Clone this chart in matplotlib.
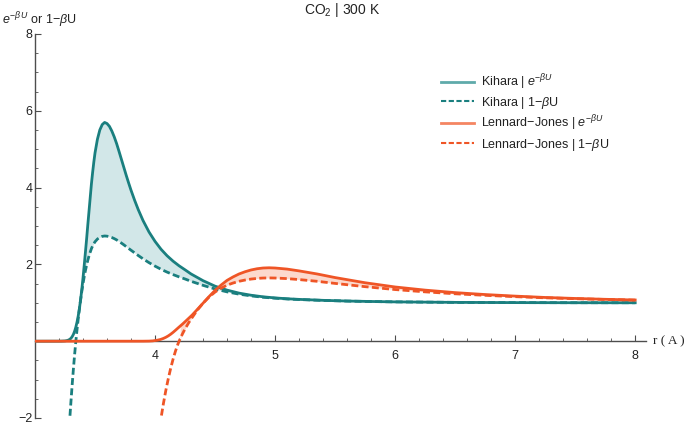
import numpy as np
import matplotlib
matplotlib.use("Agg")
import matplotlib.pyplot as plt
from matplotlib.lines import Line2D

plt.rcParams['font.family'] = ['Liberation Sans', 'DejaVu Sans']
plt.rcParams['mathtext.fontset'] = 'custom'
plt.rcParams['mathtext.rm'] = 'Liberation Sans'
plt.rcParams['mathtext.it'] = 'Liberation Sans:italic'

# Kihara curves
kih_r = [3.00, 3.20, 3.22, 3.25, 3.27, 3.28, 3.29, 3.30, 3.31, 3.32, 3.33, 3.34,
         3.35, 3.36, 3.37, 3.38, 3.39, 3.40, 3.41, 3.42, 3.43, 3.44, 3.45, 3.46,
         3.47, 3.48, 3.49, 3.50, 3.52, 3.54, 3.56, 3.58, 3.60, 3.62, 3.64, 3.66,
         3.68, 3.70, 3.72, 3.74, 3.76, 3.78, 3.80, 3.83, 3.86, 3.90, 3.95, 4.00,
         4.05, 4.10, 4.15, 4.20, 4.25, 4.30, 4.40, 4.50, 4.60, 4.70, 4.80, 4.90,
         5.00, 5.10, 5.20, 5.40, 5.60, 5.80, 6.00, 6.50, 7.00, 7.50, 8.00]
kih_exp = [0.0, 0.001, 0.002, 0.007, 0.020, 0.032, 0.050, 0.078, 0.120, 0.179,
           0.259, 0.364, 0.497, 0.657, 0.852, 1.083, 1.350, 1.649, 1.974, 2.316,
           2.664, 3.034, 3.387, 3.743, 4.096, 4.393, 4.665, 4.904, 5.259, 5.501,
           5.641, 5.697, 5.668, 5.595, 5.474, 5.322, 5.145, 4.943, 4.735, 4.527,
           4.319, 4.121, 3.931, 3.669, 3.428, 3.142, 2.843, 2.599, 2.394, 2.226,
           2.085, 1.964, 1.859, 1.751, 1.576, 1.433, 1.330, 1.252, 1.197, 1.156,
           1.127, 1.105, 1.089, 1.064, 1.046, 1.034, 1.024, 1.011, 1.005, 1.002,
           1.001]
kih_lin_r = [3.285, 3.29, 3.30, 3.31, 3.32, 3.33, 3.34, 3.35, 3.36, 3.37, 3.38,
             3.39, 3.40, 3.41, 3.42, 3.43, 3.44, 3.45, 3.46, 3.47, 3.48, 3.49,
             3.50, 3.52, 3.54, 3.56, 3.58, 3.60, 3.62, 3.64, 3.66, 3.68, 3.70,
             3.72, 3.74, 3.76, 3.78, 3.80, 3.83, 3.86, 3.90, 3.95, 4.00, 4.05,
             4.10, 4.15, 4.20, 4.25, 4.30, 4.40, 4.50, 4.60, 4.70, 4.80, 4.90,
             5.00, 5.10, 5.20, 5.40, 5.60, 5.80, 6.00, 6.50, 7.00, 7.50, 8.00]
kih_lin = [-2.22, -2.00, -1.55, -1.12, -0.72, -0.35, -0.01, 0.30, 0.58, 0.84,
           1.08, 1.30, 1.50, 1.68, 1.84, 1.98, 2.11, 2.22, 2.32, 2.41, 2.48,
           2.54, 2.59, 2.66, 2.705, 2.73, 2.74, 2.735, 2.722, 2.70, 2.672,
           2.638, 2.598, 2.555, 2.51, 2.463, 2.416, 2.369, 2.30, 2.232, 2.145,
           2.045, 1.955, 1.873, 1.80, 1.735, 1.675, 1.62, 1.56, 1.455, 1.36,
           1.285, 1.225, 1.18, 1.145, 1.12, 1.10, 1.085, 1.062, 1.045, 1.033,
           1.024, 1.011, 1.005, 1.002, 1.001]

# Lennard-Jones curves
lj_r = [3.00, 3.90, 3.95, 3.98, 4.00, 4.02, 4.04, 4.05, 4.07, 4.09, 4.11, 4.13,
        4.15, 4.17, 4.19, 4.21, 4.23, 4.25, 4.28, 4.31, 4.35, 4.40, 4.45, 4.50,
        4.55, 4.60, 4.65, 4.70, 4.75, 4.80, 4.85, 4.90, 4.95, 5.00, 5.10, 5.20,
        5.35, 5.50, 5.75, 6.00, 6.25, 6.50, 6.75, 7.00, 7.25, 7.50, 7.75, 8.00]
lj_exp = [0.0, 0.0003, 0.0025, 0.008, 0.017, 0.027, 0.041, 0.050, 0.073, 0.102,
          0.138, 0.181, 0.230, 0.284, 0.340, 0.395, 0.449, 0.507, 0.595, 0.684,
          0.819, 0.990, 1.162, 1.323, 1.462, 1.584, 1.674, 1.751, 1.809, 1.855,
          1.887, 1.906, 1.912, 1.906, 1.878, 1.831, 1.751, 1.657, 1.522, 1.412,
          1.330, 1.265, 1.215, 1.174, 1.139, 1.113, 1.091, 1.073]
lj_lin_r = [4.04, 4.05, 4.07, 4.09, 4.11, 4.13, 4.15, 4.17, 4.19, 4.21, 4.23,
            4.25, 4.28, 4.31, 4.35, 4.40, 4.45, 4.50, 4.55, 4.60, 4.65, 4.70,
            4.75, 4.80, 4.85, 4.90, 4.95, 5.00, 5.10, 5.20, 5.35, 5.50, 5.75,
            6.00, 6.25, 6.50, 6.75, 7.00, 7.25, 7.50, 7.75, 8.00]
lj_lin = [-2.20, -2.00, -1.62, -1.28, -0.98, -0.71, -0.47, -0.26, -0.08, 0.07,
          0.20, 0.32, 0.48, 0.62, 0.80, 0.99, 1.15, 1.28, 1.38, 1.46, 1.515,
          1.56, 1.593, 1.618, 1.635, 1.645, 1.648, 1.645, 1.63, 1.605, 1.56,
          1.505, 1.42, 1.345, 1.285, 1.235, 1.195, 1.16, 1.13, 1.107, 1.087,
          1.07]

TEAL = '#1a7f7f'
ORANGE = '#ef5526'
TEAL_FILL = '#d2e7e8'
ORANGE_FILL = '#fcd9cd'
DASH = (0, (2.5, 1.2))

fig = plt.figure(figsize=(6.85, 4.25), dpi=100)
ax = fig.add_axes([35 / 685, 7 / 425, 611 / 685, 384 / 425])


def fill_pair(r_exp, y_exp, r_lin, y_lin, color):
    # shade between e^-bU and 1-bU on the dashed curve's points
    r = np.array(r_lin)
    top = np.interp(r, r_exp, y_exp)
    bot = np.array(y_lin)
    ax.fill_between(r, bot, top, where=bot >= 0, interpolate=True,
                    color=color, lw=0, zorder=1)


fill_pair(kih_r, kih_exp, kih_lin_r, kih_lin, TEAL_FILL)
fill_pair(lj_r, lj_exp, lj_lin_r, lj_lin, ORANGE_FILL)

ax.plot(kih_r, kih_exp, color=TEAL, lw=2.0, zorder=3)
ax.plot(kih_lin_r, kih_lin, color=TEAL, lw=2.0, ls=DASH, zorder=3)
ax.plot(lj_r, lj_exp, color=ORANGE, lw=2.0, zorder=4)
ax.plot(lj_lin_r, lj_lin, color=ORANGE, lw=2.0, ls=DASH, zorder=4)

ax.set_xlim(3.0, 8.09)
ax.set_ylim(-2, 8)

for s in ['top', 'right']:
    ax.spines[s].set_visible(False)
ax.spines['bottom'].set_position(('data', 0))
for s in ['bottom', 'left']:
    ax.spines[s].set_color('#4d4d4d')
    ax.spines[s].set_linewidth(1.0)

ax.set_xticks([4, 5, 6, 7, 8])
ax.set_xticks(np.arange(3.2, 8.01, 0.2), minor=True)
ax.set_yticks([-2, 2, 4, 6, 8])
ax.set_yticks(np.arange(-2, 8.01, 0.5), minor=True)
ax.tick_params(axis='x', which='major', direction='in', length=4, width=0.8,
               color='#4d4d4d', labelsize=9, pad=6, labelcolor='#222222')
ax.tick_params(axis='x', which='minor', direction='in', length=2.5, width=0.6,
               color='#4d4d4d')
ax.tick_params(axis='y', which='major', direction='in', length=4, width=0.8,
               color='#4d4d4d', labelsize=9, pad=2, labelcolor='#222222')
ax.tick_params(axis='y', which='minor', direction='in', length=2.5, width=0.6,
               color='#4d4d4d')

ax.text(8.15, 0, 'r ( A )', family='Liberation Serif', fontsize=9.5,
        va='center', ha='left', clip_on=False, color='#222222')
fig.text(2 / 685, 1 - 24 / 425, r'$e^{-\beta\,U}$ or 1$-\beta$U', fontsize=9,
         va='baseline', ha='left', color='#222222')
fig.text(0.5, 1 - 14 / 425, r'CO$_2$ | 300 K', fontsize=10, ha='center',
         va='baseline', color='#222222')

handles = [
    Line2D([], [], color='#5faaaa', lw=2.0),
    Line2D([], [], color=TEAL, lw=1.5, ls=DASH),
    Line2D([], [], color='#f48562', lw=2.0),
    Line2D([], [], color=ORANGE, lw=1.5, ls=DASH),
]
labels = [r'Kihara | $e^{-\beta U}$', r'Kihara | 1$-\beta$U',
          r'Lennard$-$Jones | $e^{-\beta U}$', r'Lennard$-$Jones | 1$-\beta$U']
leg = fig.legend(handles, labels, loc='upper left',
                 bbox_to_anchor=(441 / 685, 1 - 72 / 425), frameon=False,
                 fontsize=9, handlelength=2.6, handletextpad=0.6,
                 labelspacing=0.25, borderpad=0, borderaxespad=0)
for t in leg.get_texts():
    t.set_color('#222222')

fig.savefig('out.png', dpi=100)
